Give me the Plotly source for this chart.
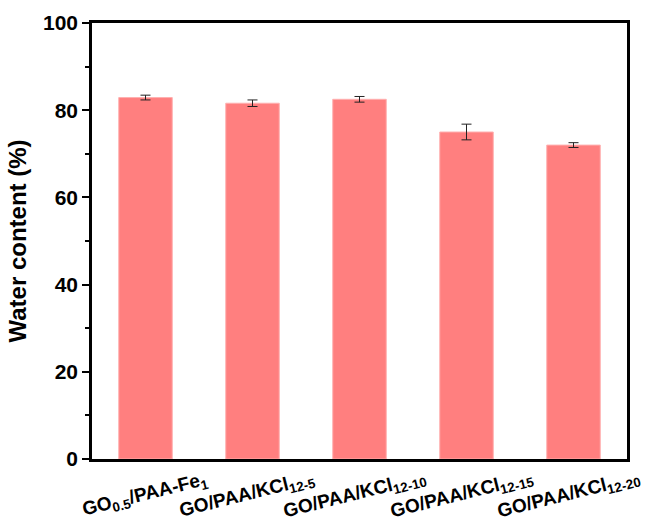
import plotly.graph_objects as go

categories = ["GO<sub>0.5</sub>/PAA-Fe<sub>1</sub>",
              "GO/PAA/KCl<sub>12-5</sub>",
              "GO/PAA/KCl<sub>12-10</sub>",
              "GO/PAA/KCl<sub>12-15</sub>",
              "GO/PAA/KCl<sub>12-20</sub>"]
water_content = [82.9, 81.6, 82.5, 75.0, 72.0]
errors = [0.55, 0.75, 0.65, 1.8, 0.55]

FONT = "Liberation Sans, Arial, sans-serif"

fig = go.Figure()
fig.add_trace(go.Bar(
    x=list(range(len(categories))),
    y=water_content,
    marker=dict(color="#FF7F7F", line=dict(color="#FFB0B0", width=1)),
    width=0.5,
    error_y=dict(type="data", array=errors, visible=True,
                 color="#222222", thickness=1, width=5),
))

for i, lab in enumerate(categories):
    fig.add_annotation(
        x=i, y=0, xref="x", yref="y",
        text=lab, showarrow=False, textangle=-14,
        xanchor="center", yanchor="middle", yshift=-36, xshift=-5 if i else 0,
        font=dict(family=FONT, size=19, color="black", weight="bold"),
    )

fig.update_layout(
    width=646, height=530,
    margin=dict(l=92, r=19, t=23, b=71),
    plot_bgcolor="white", paper_bgcolor="white",
    showlegend=False,
    font=dict(family=FONT, color="black"),
)
fig.update_xaxes(
    range=[-0.5, 4.5], showticklabels=False, ticks="",
    showline=True, linecolor="black", linewidth=2.5, mirror=True,
    showgrid=False, zeroline=False,
)
fig.update_yaxes(
    range=[0, 100], tickvals=[0, 20, 40, 60, 80, 100],
    ticks="outside", ticklen=7, tickwidth=2, tickcolor="black",
    minor=dict(tickvals=[10, 30, 50, 70, 90], ticks="outside", ticklen=4,
               tickwidth=2, tickcolor="black", showgrid=False),
    tickfont=dict(family=FONT, size=21, color="black", weight="bold"),
    title=dict(text="Water content (%)", standoff=10,
               font=dict(family=FONT, size=24, color="black", weight="bold")),
    showline=True, linecolor="black", linewidth=2.5, mirror=True,
    showgrid=False, zeroline=False,
)

fig.write_html("out.html")
